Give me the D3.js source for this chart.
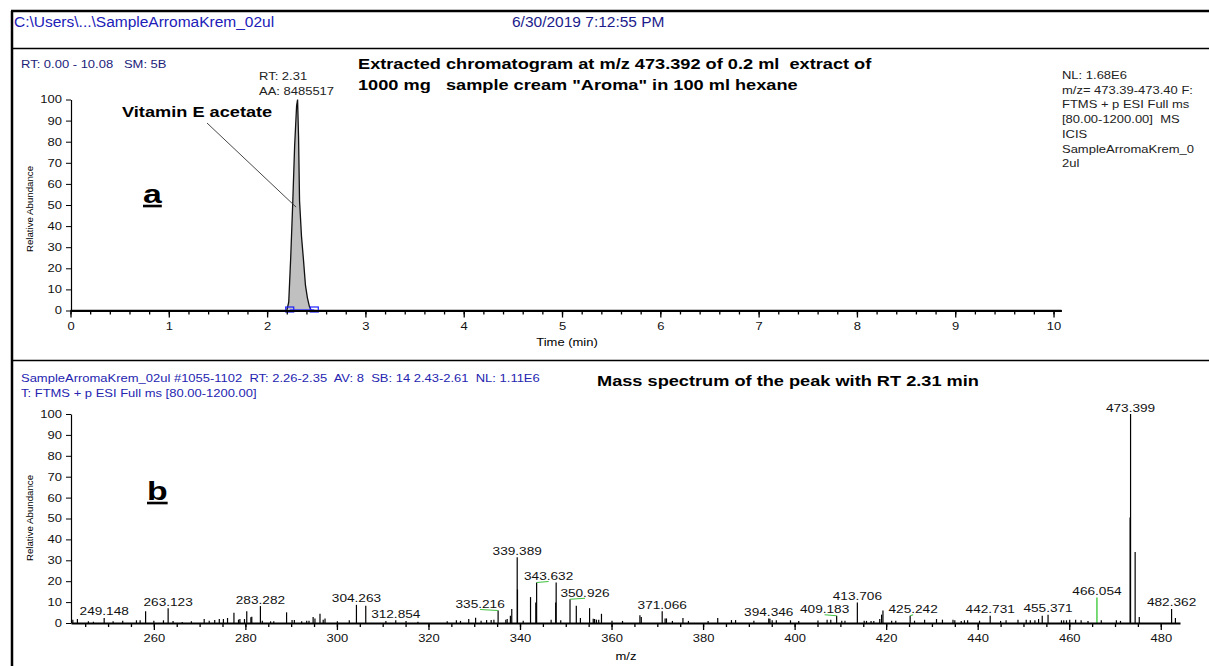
<!DOCTYPE html>
<html>
<head>
<meta charset="utf-8">
<script src="https://cdn.jsdelivr.net/npm/d3@7"></script>
<style>
  body { margin: 0; background: #fff; }
  svg { display: block; }
  text { font-family: "Liberation Sans", Arial, sans-serif; white-space: pre; }
</style>
</head>
<body>
<svg id="chart" width="1209" height="666"></svg>
<script>

// --- panel a: extracted ion chromatogram (time in min, relative abundance)
var chromRt  = [0, 2.20, 2.22, 2.24, 2.26, 2.28, 2.30, 2.31, 2.32, 2.33, 2.35, 2.37, 2.39, 2.41, 2.43, 2.45, 10.08];
var chromInt = [0, 0,    4,    25,   50,   78,   97,   100,  82,   52,   35,   24,   12,   6,    2,    0,    0];
var integrationEnds = [2.23, 2.48];

// --- panel b: mass spectrum (m/z, relative abundance)
var specMz = [242.3, 243.3, 245.7, 246.8, 249.148, 251.1, 253.2, 256.2, 257.0, 258.2, 260.0, 262.1, 263.123, 264.2,
  266.2, 268.2, 271.0, 272.1, 273.3, 274.3, 275.2, 276.1, 277.5, 278.5, 278.8, 279.8, 280.3, 281.2, 281.4, 283.282,
  283.7, 285.5, 286.2, 289.0, 290.2, 290.7, 292.3, 293.4, 293.9, 294.8, 295.2, 296.3, 297.0, 297.4, 300.1, 302.7,
  304.263, 306.3, 310.7, 312.854, 315.1, 317.7, 324.1, 326.1, 327.0, 328.8, 330.3, 331.5, 332.7, 333.7, 334.3,
  335.216, 336.9, 337.2, 337.9, 338.2, 339.389, 339.45, 340.7, 342.3, 343.45, 343.632, 346.8, 347.8, 347.9, 348.9,
  350.926, 352.3, 353.2, 355.2, 356.0, 356.3, 356.7, 357.2, 357.8, 360.1, 362.4, 366.2, 366.5, 371.066, 371.7,
  372.0, 373.3, 375.6, 376.8, 381.1, 383.2, 386.2, 387.1, 391.1, 394.346, 394.6, 395.1, 396.0, 399.1, 400.9,
  405.1, 407.1, 407.9, 409.183, 410.3, 411.0, 413.706, 415.2, 415.7, 416.7, 417.3, 418.6, 419.0, 419.3, 421.2,
  422.1, 425.242, 426.2, 428.4, 431.0, 432.3, 434.6, 435.0, 436.4, 437.1, 437.8, 440.4, 442.731, 445.0, 446.2,
  448.8, 450.6, 451.5, 452.5, 453.3, 454.1, 455.371, 458.3, 458.8, 459.4, 460.1, 461.4, 462.6, 464.1, 466.054,
  467.0, 470.3, 471.2, 473.3, 473.399, 474.4, 475.3, 482.362, 483.2];
var specInt = [1.6, 1.9, 0.8, 0.6, 2.4, 0.8, 1.1, 1.3, 1.3, 5.6, 1.1, 1.3, 7.1, 1.0,
  0.5, 0.8, 1.9, 1.1, 1.4, 1.9, 1.9, 2.4, 4.9, 1.6, 1.9, 1.9, 5.6, 2.7, 3.0, 8.1,
  1.1, 0.8, 0.8, 5.1, 1.4, 1.4, 0.8, 1.1, 1.1, 2.9, 2.1, 4.4, 1.6, 2.1, 0.8, 1.3,
  8.7, 8.3, 1.0, 1.3, 1.0, 0.6, 0.8, 1.3, 1.0, 1.9, 2.5, 1.1, 1.4, 1.4, 1.6,
  6.0, 1.6, 1.9, 3.5, 6.7, 31.5, 16.0, 1.1, 12.4, 9.8, 19.4, 1.6, 9.8, 19.4, 1.3,
  11.4, 8.3, 2.4, 7.1, 2.0, 1.9, 1.6, 1.6, 4.4, 1.1, 1.0, 3.7, 2.9, 5.6, 2.2,
  2.2, 1.0, 2.4, 1.0, 1.0, 2.4, 1.4, 1.4, 1.1, 2.2, 2.0, 1.3, 1.3, 1.3, 1.0,
  1.2, 1.6, 1.6, 3.5, 1.1, 1.1, 9.8, 1.1, 1.0, 1.0, 1.0, 1.9, 4.0, 6.0, 1.1,
  1.1, 3.5, 1.1, 1.6, 1.9, 1.6, 1.6, 1.3, 1.0, 1.3, 1.3, 1.1, 3.5, 1.0, 1.3,
  1.6, 1.6, 1.3, 1.3, 1.9, 3.5, 4.0, 1.3, 1.3, 1.3, 1.6, 1.6, 1.3, 1.0, 12.2,
  1.3, 1.3, 1.0, 50.5, 100, 34.0, 2.9, 6.7, 2.4];
var greenPeaks = [466.054];
var peakLabels = [249.148, 263.123, 283.282, 304.263, 312.854, 335.216, 339.389, 343.632, 350.926, 371.066,
  394.346, 409.183, 413.706, 425.242, 442.731, 455.371, 466.054, 473.399, 482.362];
var labelShift = [0, 0, 0, 0, 0, -18, 0, 12, 15, 0, 0, -12, 0, 3, 0, 0, 0, 0, 0];

var yTicks = d3.range(0, 101, 10);
var timeTicks = d3.range(0, 11, 1);
var mzTicks = d3.range(260, 481, 20);

var SX = 1.3;   // the original print is stretched sideways
var svg = d3.select('#chart');

function txt(parent, x, y, s, size, opts) {
  opts = opts || {};
  var sx = opts.sx == null ? SX : opts.sx;
  return parent.append('text')
    .attr('transform', 'translate(' + x + ',' + y + ') scale(' + sx + ',1)')
    .attr('text-anchor', opts.anchor || 'start')
    .attr('font-size', size)
    .attr('font-weight', opts.bold ? 'bold' : null)
    .attr('text-decoration', opts.underline ? 'underline' : null)
    .attr('fill', opts.fill || '#000')
    .text(s);
}

function line(x1, y1, x2, y2, w, c) {
  svg.append('line').attr('x1', x1).attr('y1', y1).attr('x2', x2).attr('y2', y2)
    .attr('stroke', c || '#000').attr('stroke-width', w);
}

// frame
line(11, 11, 1209, 11, 2.5);
line(12, 11, 12, 666, 2.5);
line(11, 48.5, 1209, 48.5, 1.5);
line(11, 360.5, 1209, 360.5, 1.5);

txt(svg, 14, 26.5, 'C:\\Users\\...\\SampleArromaKrem_02ul', 15.5, {sx: 1, fill: '#2020b8'});
txt(svg, 512, 26.5, '6/30/2019 7:12:55 PM', 15.5, {sx: 1, fill: '#1c1c8c'});

function yAxis(g, y) {
  var ax = g.append('g').attr('transform', 'translate(71,0)')
    .call(d3.axisLeft(y).tickValues(yTicks).tickSize(5).tickSizeOuter(0));
  ax.select('.domain').attr('stroke-width', 1.2);
  ax.selectAll('text').attr('x', -9 / SX).attr('dy', '0.34em')
    .attr('font-size', 10).attr('font-family', null).attr('fill', '#111')
    .attr('transform', 'scale(' + SX + ',1)');
}

// ---------- panel a ----------
var xa = d3.scaleLinear().domain([0, 10.08]).range([70.5, 1061.4]);
var ya = d3.scaleLinear().domain([0, 100]).range([310.5, 99.5]);
var ga = svg.append('g');

txt(ga, 21, 67.5, 'RT: 0.00 - 10.08   SM: 5B', 10, {fill: '#1c1c7a'});
txt(ga, 358, 68.5, 'Extracted chromatogram at m/z 473.392 of 0.2 ml  extract of', 14, {bold: true});
txt(ga, 358, 89.5, '1000 mg   sample cream "Aroma" in 100 ml hexane', 14, {bold: true});
var notes = ['NL: 1.68E6', 'm/z= 473.39-473.40 F:', 'FTMS + p ESI Full ms', '[80.00-1200.00]  MS', 'ICIS',
  'SampleArromaKrem_0', '2ul'];
notes.forEach(function(s, i) { txt(ga, 1062, 79 + i * 14.7, s, 10, {fill: '#222'}); });

var chrom = chromRt.map(function(t, i) { return {t: t, v: chromInt[i]}; });
ga.append('path').datum(chrom)
  .attr('d', d3.area().x(function(d) { return xa(d.t); }).y0(ya(0)).y1(function(d) { return ya(d.v); }))
  .attr('fill', '#c0c0c0');
ga.append('path').datum(chrom)
  .attr('d', d3.line().x(function(d) { return xa(d.t); }).y(function(d) { return ya(d.v); }))
  .attr('fill', 'none').attr('stroke', '#111').attr('stroke-width', 1.3);

// integration baseline markers
ga.append('line').attr('x1', xa(integrationEnds[0])).attr('x2', xa(integrationEnds[1]))
  .attr('y1', ya(0) - 0.5).attr('y2', ya(0) - 0.5).attr('stroke', '#2020ff').attr('stroke-width', 1.3);
ga.selectAll('rect.ie').data(integrationEnds).enter().append('rect')
  .attr('x', function(d) { return xa(d) - 4; }).attr('y', ya(0) - 3.5)
  .attr('width', 8).attr('height', 5).attr('fill', 'none').attr('stroke', '#2020ff').attr('stroke-width', 1.2);

var xAxA = ga.append('g').attr('transform', 'translate(0,' + ya(0) + ')')
  .call(d3.axisBottom(xa).tickValues(d3.range(0, 10.01, 0.2)).tickSize(4).tickSizeOuter(0).tickFormat(''));
xAxA.select('.domain').attr('stroke-width', 2.2);
xAxA.selectAll('line').attr('stroke-width', 1.3);
var xAxA2 = ga.append('g').attr('transform', 'translate(0,' + ya(0) + ')')
  .call(d3.axisBottom(xa).tickValues(timeTicks).tickSize(7).tickSizeOuter(0));
xAxA2.select('.domain').remove();
xAxA2.selectAll('line').attr('stroke-width', 1.3);
xAxA2.selectAll('text').attr('y', 19.5).attr('dy', null).attr('font-size', 10).attr('font-family', null)
  .attr('fill', '#111').attr('transform', 'scale(' + SX + ',1)');
yAxis(ga, ya);

txt(ga, 567, 346, 'Time (min)', 10, {anchor: 'middle'});
ga.append('text').attr('transform', 'translate(33,209) rotate(-90)').attr('text-anchor', 'middle')
  .attr('font-size', 9.7).text('Relative Abundance');

// peak annotation
var apex = chrom[chromInt.indexOf(100)];
txt(ga, 259, 80, 'RT: ' + apex.t.toFixed(2), 10, {fill: '#222'});
txt(ga, 259, 95, 'AA: 8485517', 10, {fill: '#222'});
txt(ga, 122, 117, 'Vitamin E acetate', 14, {bold: true});
ga.append('line').attr('x1', 207).attr('y1', 123).attr('x2', xa(2.30) - 0.5).attr('y2', ya(49))
  .attr('stroke', '#333').attr('stroke-width', 0.9);
txt(ga, 143, 203, 'a', 26, {bold: true, underline: true});

// ---------- panel b ----------
var xb = d3.scaleLinear().domain([241.9, 484.2]).range([71, 1180]);
var yb = d3.scaleLinear().domain([0, 100]).range([623, 414]);
var gb = svg.append('g');

txt(gb, 21, 382, 'SampleArromaKrem_02ul #1055-1102  RT: 2.26-2.35  AV: 8  SB: 14 2.43-2.61  NL: 1.11E6', 10, {fill: '#2525b0'});
txt(gb, 21, 396.5, 'T: FTMS + p ESI Full ms [80.00-1200.00]', 10, {fill: '#2525b0'});
txt(gb, 597, 386, 'Mass spectrum of the peak with RT 2.31 min', 14, {bold: true});

var spec = specMz.map(function(m, i) { return {mz: m, v: specInt[i]}; });
gb.selectAll('line.stick').data(spec).enter().append('line')
  .attr('class', 'stick')
  .attr('x1', function(d) { return xb(d.mz); }).attr('x2', function(d) { return xb(d.mz); })
  .attr('y1', yb(0)).attr('y2', function(d) { return yb(d.v); })
  .attr('stroke', function(d) { return greenPeaks.indexOf(d.mz) >= 0 ? '#20c020' : '#000'; })
  .attr('stroke-width', 1.2);

peakLabels.forEach(function(m, i) {
  var v = specInt[specMz.indexOf(m)];
  var px = xb(m), py = yb(v);
  var lx = px + labelShift[i], ly = py - 2.5;
  if (Math.abs(labelShift[i]) > 2) {
    gb.append('line').attr('x1', px).attr('y1', py).attr('x2', lx).attr('y2', ly + 1.5)
      .attr('stroke', '#40c040').attr('stroke-width', 1.1);
  }
  txt(gb, lx, ly, m.toFixed(3), 10.5, {anchor: 'middle', fill: '#111'});
});

var xAxB = gb.append('g').attr('transform', 'translate(0,' + yb(0) + ')')
  .call(d3.axisBottom(xb).tickValues(d3.range(245, 484, 5)).tickSize(4).tickSizeOuter(0).tickFormat(''));
xAxB.select('.domain').attr('stroke-width', 2.2);
xAxB.selectAll('line').attr('stroke-width', 1.3);
var xAxB2 = gb.append('g').attr('transform', 'translate(0,' + yb(0) + ')')
  .call(d3.axisBottom(xb).tickValues(mzTicks).tickSize(7).tickSizeOuter(0));
xAxB2.select('.domain').remove();
xAxB2.selectAll('line').attr('stroke-width', 1.3);
xAxB2.selectAll('text').attr('y', 18.7).attr('dy', null).attr('font-size', 10).attr('font-family', null)
  .attr('fill', '#111').attr('transform', 'scale(' + SX + ',1)');
yAxis(gb, yb);

txt(gb, 626, 660, 'm/z', 10, {anchor: 'middle'});
gb.append('text').attr('transform', 'translate(33,518) rotate(-90)').attr('text-anchor', 'middle')
  .attr('font-size', 9.7).text('Relative Abundance');
txt(gb, 147, 500, 'b', 26, {bold: true, underline: true});

</script>
</body>
</html>
